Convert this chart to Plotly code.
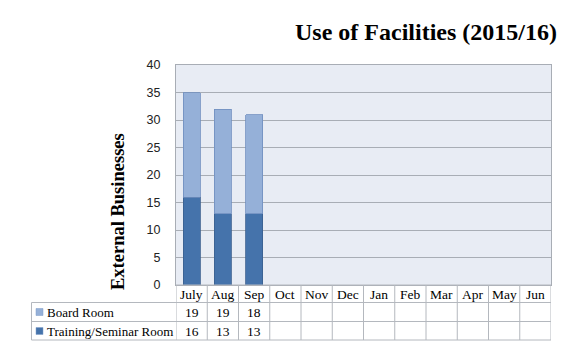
import plotly.graph_objects as go

months = ["July", "Aug", "Sep", "Oct", "Nov", "Dec", "Jan", "Feb", "Mar", "Apr", "May", "Jun"]
training = [16, 13, 13, None, None, None, None, None, None, None, None, None]
board = [19, 19, 18, None, None, None, None, None, None, None, None, None]
series_names = ["Board Room", "Training/Seminar Room"]
y_ticks = [0, 5, 10, 15, 20, 25, 30, 35, 40]

C_BOARD = "#95b0d8"
C_TRAIN = "#4573ab"
SERIF = "Liberation Serif, Cambria, serif"
SANS = "Liberation Sans, Arial, sans-serif"

W, H = 579, 346
L, R, T, B = 176, 28, 65, 61
PW, PH = W - L - R, H - T - B

def py(ypix):
    return (H - B - ypix) / PH

def px(xpix):
    return (xpix - L) / PW

fig = go.Figure()
fig.add_bar(x=months, y=training, name=series_names[1], marker=dict(color=C_TRAIN, line=dict(color="#3a5f8f", width=0.8)), width=0.55)
fig.add_bar(x=months, y=board, name=series_names[0], marker=dict(color=C_BOARD, line=dict(color="#6f8fbf", width=0.8)), width=0.55)

shapes = []
annotations = []
grid_col = "#b4b8be"
row_y = [285, 302.5, 321.5, 340]
shapes.append(dict(type="line", xref="paper", yref="paper", x0=0, x1=1, y0=py(285), y1=py(285), line=dict(color=grid_col, width=1)))
for yy in row_y[1:]:
    shapes.append(dict(type="line", xref="paper", yref="paper", x0=px(31.5), x1=1, y0=py(yy), y1=py(yy), line=dict(color=grid_col, width=1)))
for i in range(len(months) + 1):
    shapes.append(dict(type="line", xref="x", yref="paper", x0=i - 0.5, x1=i - 0.5, y0=py(285), y1=py(340), line=dict(color=grid_col, width=1)))
shapes.append(dict(type="line", xref="paper", yref="paper", x0=px(31.5), x1=px(31.5), y0=py(302.5), y1=py(340), line=dict(color=grid_col, width=1)))

for m in months:
    annotations.append(dict(x=m, xref="x", y=py(294), yref="paper", text=m, showarrow=False, font=dict(family=SERIF, size=13.5, color="#000"), yanchor="middle"))

rows = [(series_names[0], board, C_BOARD, 312), (series_names[1], training, C_TRAIN, 331)]
for name, vals, col, yc in rows:
    shapes.append(dict(type="rect", xref="paper", yref="paper", x0=px(36), x1=px(43), y0=py(yc + 3.5), y1=py(yc - 3.5), fillcolor=col, line=dict(color="#7f9cc8", width=0.5)))
    annotations.append(dict(x=px(45), xref="paper", y=py(yc), yref="paper", text=name, showarrow=False, xanchor="left", yanchor="middle", font=dict(family=SERIF, size=13, color="#000")))
    for m, v in zip(months, vals):
        if v is not None:
            annotations.append(dict(x=m, xref="x", y=py(yc), yref="paper", text=str(v), showarrow=False, yanchor="middle", font=dict(family=SERIF, size=13.5, color="#000")))

annotations.append(dict(x=px(426), xref="paper", y=py(32), yref="paper", text="<b>Use of Facilities (2015/16)</b>", showarrow=False, xanchor="center", yanchor="middle", font=dict(family=SERIF, size=24, color="#000")))
annotations.append(dict(x=px(118), xref="paper", y=py(212), yref="paper", text="<b>External Businesses</b>", showarrow=False, textangle=-90, xanchor="center", yanchor="middle", font=dict(family=SERIF, size=18.5, color="#000")))

fig.update_layout(
    width=W, height=H,
    margin=dict(l=L, r=R, t=T, b=B),
    barmode="stack",
    showlegend=False,
    paper_bgcolor="white",
    plot_bgcolor="#e8ecf4",
    shapes=shapes,
    annotations=annotations,
)
fig.update_xaxes(showticklabels=False, showgrid=False, ticks="", showline=True, linecolor="#a8adb5", mirror=True, range=[-0.5, 11.5])
fig.update_yaxes(range=[0, 40], tickvals=y_ticks, showgrid=True, gridcolor="#a8adb5", gridwidth=1, zeroline=False,
                 showline=True, linecolor="#a8adb5", mirror=True, ticks="", ticklabelstandoff=12,
                 tickfont=dict(family=SANS, size=12.5, color="#222"))

fig.write_html("out.html")
